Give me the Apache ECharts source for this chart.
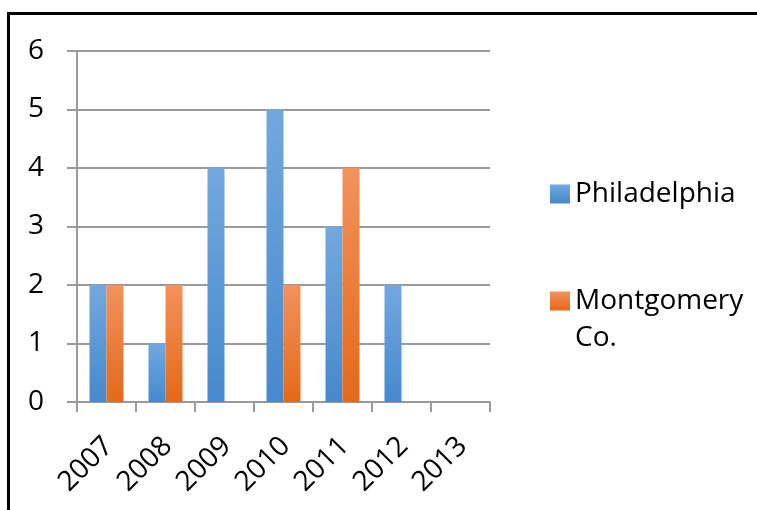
<!DOCTYPE html>
<html>
<head>
<meta charset="utf-8">
<script src="https://cdn.jsdelivr.net/npm/echarts@6/dist/echarts.min.js"></script>
<style>
html,body{margin:0;padding:0;background:#fff;}
#c{width:757px;height:510px;}
</style>
</head>
<body>
<div id="c"></div>
<script>
const categories = ['2007','2008','2009','2010','2011','2012','2013'];
const philadelphia = [2, 1, 4, 5, 3, 2, null];
const montgomery = [2, 2, null, 2, 4, null, null];
const yTicks = [0, 1, 2, 3, 4, 5, 6];

const FONT = '"Open Sans"';
const FS = 28;
const chart = echarts.init(document.getElementById('c'));

function grad(top, bottom) {
  return new echarts.graphic.LinearGradient(0, 0, 0, 1, [
    {offset: 0, color: top}, {offset: 1, color: bottom}
  ]);
}
const blue = grad('#73a8de', '#4689cc');
const orange = grad('#f3925c', '#e4691a');

chart.setOption({
  animation: false,
  graphic: [{
    type: 'rect', silent: true,
    shape: {x: 8.5, y: 13.5, width: 900, height: 700},
    style: {fill: 'none', stroke: '#000', lineWidth: 3}
  }],
  grid: {left: 77, right: 267, top: 51, bottom: 108, containLabel: false},
  legend: [{
    orient: 'vertical', left: 550, top: 177, padding: 0,
    itemWidth: 20, itemHeight: 19, icon: 'rect',
    data: [{name: 'Philadelphia', itemStyle: {color: blue}}],
    textStyle: {fontFamily: FONT, fontSize: FS, color: '#000', lineHeight: 34}
  }, {
    orient: 'vertical', left: 550, top: 245.5, padding: 0,
    itemWidth: 20, itemHeight: 19, icon: 'rect',
    data: [{name: 'Montgomery Co.', itemStyle: {color: orange}}],
    formatter: function (n) { return '\u00a0\n' + n.replace(' ', '\n'); },
    textStyle: {fontFamily: FONT, fontSize: FS, color: '#000', lineHeight: 37}
  }],
  xAxis: {
    type: 'category', data: categories,
    axisLine: {lineStyle: {color: '#9a9a9a', width: 2}},
    axisTick: {show: true, length: 10, lineStyle: {color: '#9a9a9a', width: 2}},
    axisLabel: {rotate: 45, margin: 22, verticalAlign: 'top', padding: [0, 11, 0, 0], fontFamily: FONT, fontSize: FS, color: '#000', interval: 0}
  },
  yAxis: {
    type: 'value', min: yTicks[0], max: yTicks[yTicks.length - 1], interval: 1,
    axisLine: {show: true, lineStyle: {color: '#9a9a9a', width: 2}},
    axisTick: {show: true, length: 10, lineStyle: {color: '#9a9a9a', width: 2}},
    splitLine: {lineStyle: {color: '#9a9a9a', width: 2}},
    axisLabel: {margin: 33, fontFamily: FONT, fontSize: FS, color: '#000'}
  },
  series: [{
    name: 'Philadelphia', type: 'bar', data: philadelphia,
    barWidth: 17, barGap: '0%',
    itemStyle: {color: blue}
  }, {
    name: 'Montgomery Co.', type: 'bar', data: montgomery,
    barWidth: 17, barGap: '0%',
    itemStyle: {color: orange}
  }]
});
</script>
</body>
</html>
